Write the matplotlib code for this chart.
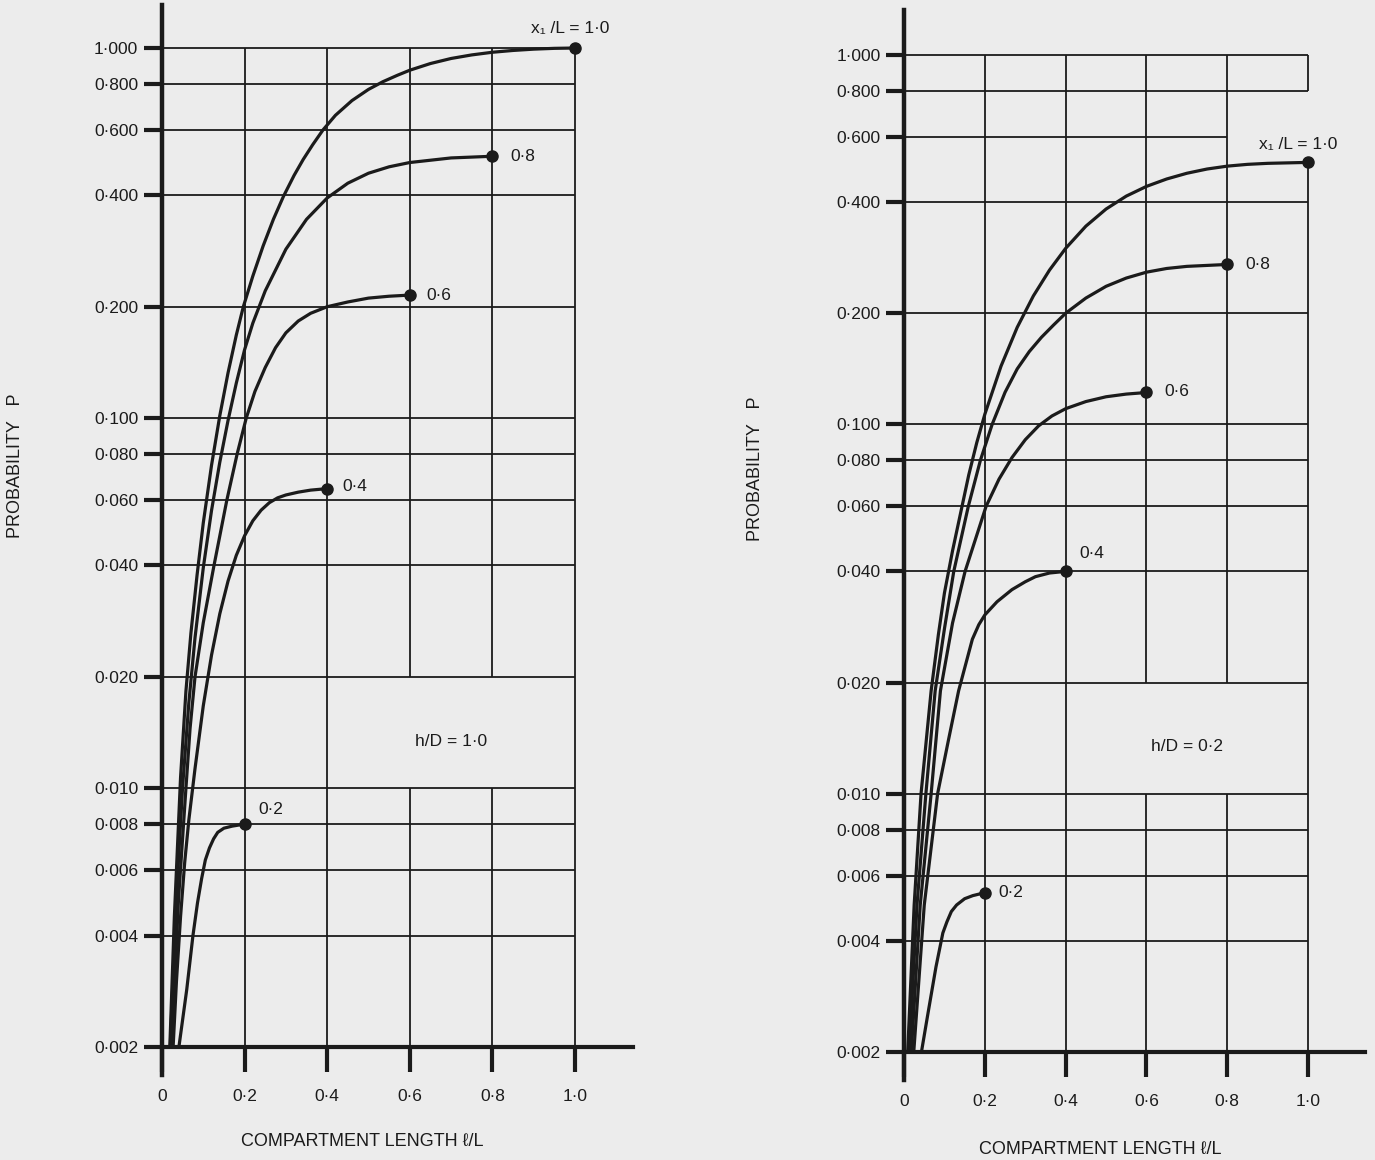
import matplotlib
matplotlib.use("Agg")
import matplotlib.pyplot as plt
from matplotlib.ticker import NullLocator

plt.rcParams["font.family"] = ["Liberation Sans", "DejaVu Sans"]

INK = "#1b1b1b"
PAPER = "#ececec"

# axis ticks
Y_TICKS = [0.002, 0.004, 0.006, 0.008, 0.010, 0.020, 0.040, 0.060, 0.080,
           0.100, 0.200, 0.400, 0.600, 0.800, 1.000]
X_TICKS = [0.0, 0.2, 0.4, 0.6, 0.8, 1.0]
Y_LABELS = [f"{v:.3f}".replace(".", "·") for v in Y_TICKS]
X_LABELS = ["0", "0·2", "0·4", "0·6", "0·8", "1·0"]

# h/D = 1.0 (left panel), one curve per x1/L
L10_X = [0.019, 0.030, 0.045, 0.058, 0.070, 0.085, 0.100, 0.120, 0.140, 0.160,
         0.180, 0.197, 0.220, 0.245, 0.270, 0.294, 0.320, 0.342, 0.365, 0.390,
         0.420, 0.460, 0.500, 0.535, 0.570, 0.600, 0.650, 0.700, 0.750, 0.800,
         0.850, 0.900, 0.950, 1.000]
L10_P = [0.0020, 0.0045, 0.0107, 0.0183, 0.0262, 0.0377, 0.0521, 0.0746,
         0.1015, 0.1326, 0.1677, 0.2000, 0.2420, 0.2920, 0.3450, 0.3970,
         0.4530, 0.5000, 0.5480, 0.6010, 0.6580, 0.7210, 0.7730, 0.8110,
         0.8440, 0.8710, 0.9080, 0.9370, 0.9580, 0.9740, 0.9850, 0.9930,
         0.9980, 1.0000]
L08_X = [0.020, 0.035, 0.050, 0.065, 0.080, 0.100, 0.120, 0.140, 0.160, 0.180,
         0.200, 0.220, 0.250, 0.300, 0.350, 0.400, 0.450, 0.500, 0.550, 0.600,
         0.700, 0.800]
L08_P = [0.0020, 0.0051, 0.0101, 0.0170, 0.0255, 0.0394, 0.0563, 0.0760,
         0.0986, 0.1244, 0.1530, 0.1806, 0.2207, 0.2860, 0.3445, 0.3934,
         0.4313, 0.4589, 0.4776, 0.4905, 0.5047, 0.5100]
L06_X = [0.023, 0.040, 0.058, 0.068, 0.080, 0.100, 0.126, 0.157, 0.182, 0.204,
         0.225, 0.250, 0.275, 0.300, 0.330, 0.360, 0.400, 0.450, 0.500, 0.550,
         0.600]
L06_P = [0.0020, 0.0050, 0.0100, 0.0145, 0.0200, 0.0280, 0.0400, 0.0600,
         0.0800, 0.1000, 0.1180, 0.1370, 0.1550, 0.1700, 0.1830, 0.1920,
         0.2000, 0.2060, 0.2110, 0.2135, 0.2150]
L04_X = [0.027, 0.035, 0.045, 0.055, 0.065, 0.080, 0.100, 0.120, 0.140, 0.160,
         0.180, 0.200, 0.220, 0.240, 0.260, 0.280, 0.300, 0.330, 0.360, 0.400]
L04_P = [0.0020, 0.0030, 0.0045, 0.0063, 0.0082, 0.0113, 0.0167, 0.0229,
         0.0296, 0.0363, 0.0426, 0.0481, 0.0528, 0.0564, 0.0591, 0.0609,
         0.0620, 0.0631, 0.0639, 0.0645]
L02_X = [0.041, 0.060, 0.075, 0.086, 0.096, 0.105, 0.115, 0.125, 0.135, 0.150,
         0.170, 0.200]
L02_P = [0.0020, 0.00286, 0.0040, 0.0049, 0.0057, 0.0064, 0.0069, 0.0073,
         0.0076, 0.0078, 0.0079, 0.0080]

# h/D = 0.2 (right panel)
R10_X = [0.009, 0.025, 0.042, 0.067, 0.085, 0.100, 0.120, 0.140, 0.160, 0.180,
         0.200, 0.240, 0.280, 0.320, 0.360, 0.400, 0.450, 0.500, 0.550, 0.600,
         0.650, 0.700, 0.750, 0.800, 0.850, 0.900, 1.000]
R10_P = [0.0020, 0.0050, 0.0100, 0.0190, 0.0270, 0.0350, 0.0455, 0.0576,
         0.0729, 0.0893, 0.1066, 0.1438, 0.1831, 0.2227, 0.2617, 0.2997,
         0.3441, 0.3829, 0.4150, 0.4409, 0.4617, 0.4785, 0.4913, 0.5002,
         0.5058, 0.5090, 0.5120]
R08_X = [0.013, 0.032, 0.054, 0.077, 0.100, 0.123, 0.159, 0.189, 0.218, 0.250,
         0.280, 0.310, 0.340, 0.370, 0.400, 0.450, 0.500, 0.550, 0.600, 0.650,
         0.700, 0.800]
R08_P = [0.0020, 0.0050, 0.0100, 0.0190, 0.0280, 0.0400, 0.0600, 0.0800,
         0.1000, 0.1222, 0.1413, 0.1575, 0.1721, 0.1858, 0.2000, 0.2198,
         0.2365, 0.2490, 0.2583, 0.2643, 0.2678, 0.2710]
R06_X = [0.018, 0.040, 0.067, 0.090, 0.120, 0.151, 0.203, 0.235, 0.267, 0.300,
         0.333, 0.366, 0.400, 0.450, 0.500, 0.550, 0.600]
R06_P = [0.0020, 0.0050, 0.0100, 0.0190, 0.0290, 0.0400, 0.0600, 0.0711,
         0.0813, 0.0909, 0.0991, 0.1054, 0.1103, 0.1153, 0.1188, 0.1208,
         0.1220]
R04_X = [0.024, 0.050, 0.083, 0.110, 0.135, 0.169, 0.185, 0.200, 0.230, 0.267,
         0.300, 0.325, 0.360, 0.400]
R04_P = [0.0020, 0.0050, 0.0100, 0.0140, 0.0190, 0.0262, 0.0287, 0.0305,
         0.0331, 0.0357, 0.0375, 0.0387, 0.0396, 0.0400]
R02_X = [0.043, 0.058, 0.079, 0.096, 0.106, 0.117, 0.130, 0.150, 0.170, 0.200]
R02_P = [0.0020, 0.0025, 0.0034, 0.0042, 0.0045, 0.0048, 0.0050, 0.0052,
         0.0053, 0.0054]

CURVE_LABELS = ["x₁ /L = 1·0", "0·8", "0·6", "0·4", "0·2"]


def draw_grid(ax, v_segments, h_ends):
    for y in Y_TICKS[1:]:
        ax.plot([0, h_ends.get(y, 1.0)], [y, y], color=INK, lw=1.3,
                zorder=1, solid_capstyle="butt")
    for x in X_TICKS[1:]:
        for lo, hi in v_segments.get(x, [(Y_TICKS[0], Y_TICKS[-1])]):
            ax.plot([x, x], [lo, hi], color=INK, lw=1.3, zorder=1,
                    solid_capstyle="butt")


def panel(rect, curves, offsets, v_segments, h_ends, note, ylim_top):
    ax = fig.add_axes(rect)
    ax.set_facecolor("none")
    ax.set_yscale("log")
    ax.set_xlim(0, 1.14)
    ax.set_ylim(0.00168, ylim_top)
    for side in ("top", "right"):
        ax.spines[side].set_visible(False)
    ax.spines["left"].set_linewidth(3.2)
    ax.spines["bottom"].set_linewidth(3.0)
    ax.spines["bottom"].set_position(("data", 0.002))
    for sp in ax.spines.values():
        sp.set_color(INK)
    ax.set_yticks(Y_TICKS, Y_LABELS)
    ax.set_xticks(X_TICKS, X_LABELS)
    ax.yaxis.set_minor_locator(NullLocator())
    ax.tick_params(axis="y", direction="out", length=13, width=3, pad=4,
                   labelsize=12.5, color=INK, labelcolor=INK)
    ax.tick_params(axis="x", direction="out", length=18, width=3, pad=12,
                   labelsize=12.5, color=INK, labelcolor=INK)
    draw_grid(ax, v_segments, h_ends)
    for (xs, ps), label, off in zip(curves, CURVE_LABELS, offsets):
        ax.plot(xs, ps, color=INK, lw=2.3, zorder=3, solid_joinstyle="round",
                solid_capstyle="round")
        ax.plot(xs[-1], ps[-1], "o", color=INK, ms=8, zorder=4, clip_on=False)
        dx, dy, ha = off
        ax.annotate(label, (xs[-1], ps[-1]), xytext=(dx, dy),
                    textcoords="offset pixels", ha=ha, va="center",
                    fontsize=12.5, color=INK)
    ax.text(0.70, 0.0134, note, ha="center", va="center", fontsize=12.5,
            color=INK)
    return ax


fig = plt.figure(figsize=(13.75, 11.6), dpi=100, facecolor=PAPER)

gap = [(0.002, 0.010), (0.020, 1.000)]
left_curves = [(L10_X, L10_P), (L08_X, L08_P), (L06_X, L06_P),
               (L04_X, L04_P), (L02_X, L02_P)]
left_offsets = [(-5, 20, "center"), (18, 0, "left"), (17, 0, "left"),
                (15, 2, "left"), (14, 15, "left")]
panel([0.1178, 0.0733, 0.3424, 0.9224], left_curves, left_offsets,
      {0.6: gap, 0.8: gap}, {}, "h/D = 1·0", 1.307)

right_curves = [(R10_X, R10_P), (R08_X, R08_P), (R06_X, R06_P),
                (R04_X, R04_P), (R02_X, R02_P)]
right_offsets = [(-10, 18, "center"), (18, 0, "left"), (18, 1, "left"),
                 (14, 18, "left"), (14, 0, "left")]
panel([0.6575, 0.0690, 0.3350, 0.9224], right_curves, right_offsets,
      {0.6: gap, 0.8: gap, 1.0: [(0.002, R10_P[-1]), (0.800, 1.000)]},
      {0.6: 0.8}, "h/D = 0·2", 1.324)

fig.text(15 / 1375, 1 - 466 / 1160, "PROBABILITY   P", rotation=90,
         ha="center", va="center", fontsize=13, color=INK)
fig.text(755 / 1375, 1 - 469 / 1160, "PROBABILITY   P", rotation=90,
         ha="center", va="center", fontsize=13, color=INK)
fig.text(362 / 1375, 1 - 1142 / 1160, "COMPARTMENT LENGTH ℓ/L",
         ha="center", va="center", fontsize=13, color=INK)
fig.text(1100 / 1375, 1 - 1149 / 1160, "COMPARTMENT LENGTH ℓ/L",
         ha="center", va="center", fontsize=13, color=INK)

fig.savefig("out.png", dpi=100, facecolor=PAPER)
